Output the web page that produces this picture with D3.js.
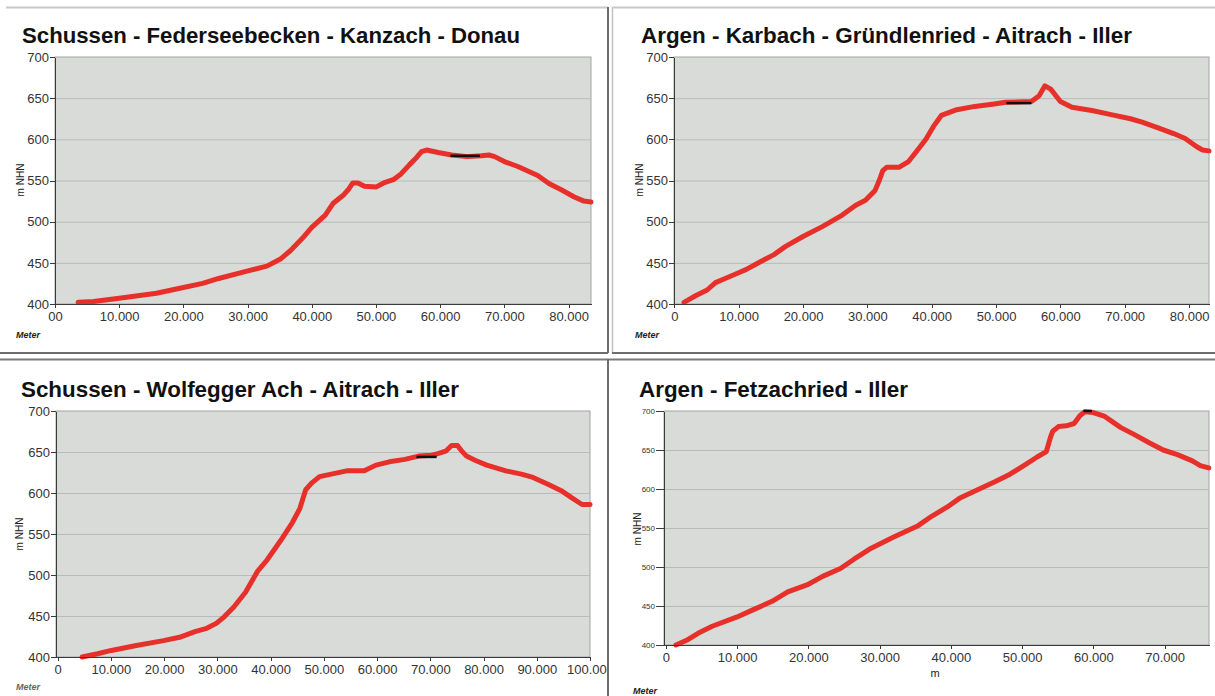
<!DOCTYPE html>
<html>
<head>
<meta charset="utf-8">
<script src="https://cdn.jsdelivr.net/npm/d3@7"></script>
<style>
  body { margin: 0; background: #fff; }
  svg { display: block; font-family: "Liberation Sans", Arial, sans-serif; }
  .grid line { stroke: #b9bbb9; stroke-width: 1; }
  .grid path { display: none; }
  .axis path, .axis line { stroke: #3a3a3a; shape-rendering: crispEdges; }
  .axis text { fill: #333; }
</style>
</head>
<body>
<svg id="chart" width="1215" height="696"></svg>
<script>
// titles of the four profiles
var titles = [
  "Schussen - Federseebecken - Kanzach - Donau",
  "Argen - Karbach - Gründlenried - Aitrach - Iller",
  "Schussen - Wolfegger Ach - Aitrach - Iller",
  "Argen - Fetzachried - Iller"
];

var yTicks  = [400, 450, 500, 550, 600, 650, 700];
var yLabels = ["400", "450", "500", "550", "600", "650", "700"];

var xTicks1  = [0, 10000, 20000, 30000, 40000, 50000, 60000, 70000, 80000];
var xLabels1 = ["00", "10.000", "20.000", "30.000", "40.000", "50.000", "60.000", "70.000", "80.000"];
var xTicks2  = [0, 10000, 20000, 30000, 40000, 50000, 60000, 70000, 80000];
var xLabels2 = ["0", "10.000", "20.000", "30.000", "40.000", "50.000", "60.000", "70.000", "80.000"];
var xTicks3  = [0, 10000, 20000, 30000, 40000, 50000, 60000, 70000, 80000, 90000, 100000];
var xLabels3 = ["0", "10.000", "20.000", "30.000", "40.000", "50.000", "60.000", "70.000", "80.000", "90.000", "100.000"];
var xTicks4  = [0, 10000, 20000, 30000, 40000, 50000, 60000, 70000];
var xLabels4 = ["0", "10.000", "20.000", "30.000", "40.000", "50.000", "60.000", "70.000"];

// distance (m) and elevation (m NHN)
var dist1 = [3600, 6000, 10000, 15800, 20000, 23000, 25500, 29900, 33000, 35200, 36700, 38800, 40000, 42100, 43300, 44900, 45800, 46400, 47200, 48200, 50000, 51200, 52700, 53900, 55200, 56100, 57100, 57900, 59700, 61800, 64200, 66400, 67600, 68500, 70000, 72100, 75200, 77000, 78800, 80900, 82400, 83500];
var elev1 = [402, 403, 407, 413, 420, 425, 431, 440, 446, 455, 465, 482, 493, 508, 522, 532, 540, 547, 547, 543, 542, 547, 551, 558, 569, 576, 585, 587, 584, 581, 579, 580, 581, 579, 573, 567, 556, 546, 539, 530, 525, 524];

var dist2 = [1500, 3300, 5100, 6400, 7900, 10000, 11200, 13300, 15500, 17300, 20000, 23000, 26100, 28200, 29700, 31200, 31800, 32400, 33000, 34900, 36400, 37600, 39100, 40300, 41500, 43900, 46700, 49700, 51500, 55500, 56700, 57600, 58500, 60000, 61800, 64900, 67900, 70900, 72700, 75200, 77600, 79400, 81200, 82100, 83100];
var elev2 = [402, 410, 417, 426, 431, 438, 442, 451, 460, 470, 482, 494, 508, 520, 526, 538, 549, 562, 566, 566, 573, 585, 600, 616, 629, 636, 640, 643, 645, 646, 653, 665, 661, 646, 639, 635, 630, 625, 621, 614, 607, 601, 591, 587, 586];

var dist3 = [4600, 7500, 10100, 14800, 19900, 22900, 25800, 28000, 29800, 31300, 33100, 35300, 37500, 39300, 41900, 44100, 45500, 46600, 47700, 49200, 51400, 54300, 57600, 59800, 62300, 65200, 67800, 70300, 71400, 72900, 74000, 75100, 75800, 76800, 78400, 80600, 84200, 87100, 89300, 92300, 94800, 96600, 98500, 100000];
var elev3 = [400, 404, 408, 414, 420, 424, 431, 435, 441, 449, 461, 479, 504, 518, 542, 564, 581, 604, 612, 620, 623, 627, 627, 634, 638, 641, 645, 646, 648, 651, 658, 658, 652, 645, 640, 634, 627, 623, 619, 610, 602, 594, 586, 586];

var dist4 = [1400, 2900, 4500, 6500, 10000, 12200, 14900, 17100, 19800, 22000, 24500, 26400, 28600, 31900, 35400, 37300, 39500, 41200, 43300, 46100, 48300, 50400, 52100, 53400, 54000, 54300, 55100, 56200, 57300, 58100, 58800, 60000, 61600, 62700, 63800, 65700, 67900, 69800, 71800, 73900, 75000, 76200];
var elev4 = [400, 406, 415, 424, 436, 445, 456, 468, 477, 488, 498, 510, 523, 538, 553, 565, 577, 588, 597, 609, 619, 631, 641, 648, 667, 674, 680, 681, 684, 694, 699, 698, 693, 686, 679, 670, 659, 650, 644, 636, 630, 627];

// short black level segments (summit reach)
var sillDist1 = [61600, 66200], sillElev1 = [580, 580];
var sillDist2 = [51600, 55500], sillElev2 = [644, 644];
var sillDist3 = [67400, 71200], sillElev3 = [644, 644];
var sillDist4 = [58600, 59800], sillElev4 = [700, 700];

var panels = [
  { title: titles[0], dist: dist1, elev: elev1, sd: sillDist1, se: sillElev1, xt: xTicks1, xl: xLabels1,
    xMin: 0, xMax: 83500, box: [55, 591, 57, 304], clip: [0, 0, 608, 353],
    tx: 22, ty: 43, tw: 498, ylx: 20, yly: 180, mx: 16, my: 338, yFont: 13, yTick: 5, yFill: "#333", mFill: "#222" },
  { title: titles[1], dist: dist2, elev: elev2, sd: sillDist2, se: sillElev2, xt: xTicks2, xl: xLabels2,
    xMin: -50, xMax: 83100, box: [674, 1209, 57, 304], clip: [612, 0, 603, 353],
    tx: 641, ty: 43, tw: 491, ylx: 639, yly: 180, mx: 635, my: 338, yFont: 13, yTick: 5, yFill: "#333", mFill: "#222" },
  { title: titles[2], dist: dist3, elev: elev3, sd: sillDist3, se: sillElev3, xt: xTicks3, xl: xLabels3,
    xMin: -300, xMax: 100000, box: [56, 590, 411, 657], clip: [0, 360, 607, 336],
    tx: 21, ty: 397, tw: 438, ylx: 19, yly: 534, mx: 16, my: 690, yFont: 13, yTick: 5, yFill: "#333", mFill: "#666" },
  { title: titles[3], dist: dist4, elev: elev4, sd: sillDist4, se: sillElev4, xt: xTicks4, xl: xLabels4,
    xMin: -270, xMax: 76230, box: [664, 1209, 411, 645], clip: [609, 360, 606, 336],
    tx: 639, ty: 397, tw: 269, ylx: 637, yly: 529, mx: 633, my: 694, yFont: 8, yTick: 8, yFill: "#555", mFill: "#222",
    xName: "m", xnx: 935, xny: 677 }
];

var svg = d3.select("#chart");
svg.append("rect").attr("width", 1215).attr("height", 696).attr("fill", "#fff");

// panel frames
var frames = [
  { d: "M6,7.5H608", c: "#c8c8c8", w: 2 },
  { d: "M608,7V353", c: "#6d6d6d", w: 2 },
  { d: "M0,353H608", c: "#6d6d6d", w: 2 },
  { d: "M612.5,7V353", c: "#c0c0c0", w: 1.5 },
  { d: "M612,7.5H1215", c: "#c8c8c8", w: 2 },
  { d: "M612,353H1215", c: "#6d6d6d", w: 2 },
  { d: "M0,359.5H1215", c: "#7a7a7a", w: 2 },
  { d: "M608,359V696", c: "#6d6d6d", w: 2 }
];
svg.selectAll("path.frame").data(frames).enter().append("path")
  .attr("class", "frame").attr("d", function(d) { return d.d; })
  .attr("stroke", function(d) { return d.c; }).attr("stroke-width", function(d) { return d.w; })
  .attr("fill", "none");

panels.forEach(function(p, i) {
  var x0 = p.box[0], x1 = p.box[1], y0 = p.box[2], y1 = p.box[3];
  var x = d3.scaleLinear().domain([p.xMin, p.xMax]).range([x0, x1]);
  var y = d3.scaleLinear().domain([400, 700]).range([y1, y0]);

  svg.append("clipPath").attr("id", "clip" + i).append("rect")
    .attr("x", p.clip[0]).attr("y", p.clip[1]).attr("width", p.clip[2]).attr("height", p.clip[3]);
  var g = svg.append("g").attr("clip-path", "url(#clip" + i + ")");

  g.append("text").text(p.title)
    .attr("x", p.tx).attr("y", p.ty)
    .attr("font-size", 22).attr("font-weight", "bold").attr("fill", "#111")
    .attr("textLength", p.tw).attr("lengthAdjust", "spacingAndGlyphs");

  g.append("rect").attr("x", x0).attr("y", y0).attr("width", x1 - x0).attr("height", y1 - y0)
    .attr("fill", "#d9dbd9").attr("stroke", "#a3a3a3").attr("stroke-width", 1);

  var grid = d3.axisLeft(y).tickValues([450, 500, 550, 600, 650]).tickSize(-(x1 - x0)).tickFormat("");
  g.append("g").attr("class", "grid").attr("transform", "translate(" + x0 + ",0)").call(grid);

  var line = d3.line().x(function(d) { return x(d[0]); }).y(function(d) { return y(d[1]); });
  var pts = p.dist.map(function(d, k) { return [d, p.elev[k]]; });
  g.append("path").datum(pts).attr("d", line)
    .attr("fill", "none").attr("stroke", "#e8302a").attr("stroke-width", 5)
    .attr("stroke-linejoin", "round").attr("stroke-linecap", "round");

  var sill = p.sd.map(function(d, k) { return [d, p.se[k]]; });
  g.append("path").datum(sill).attr("d", line)
    .attr("fill", "none").attr("stroke", "#111").attr("stroke-width", 2.5);

  var axisY = d3.axisLeft(y).tickValues(yTicks).tickFormat(function(d, k) { return yLabels[k]; })
    .tickSize(p.yTick).tickPadding(1).tickSizeOuter(0);
  var gy = g.append("g").attr("class", "axis").attr("transform", "translate(" + x0 + ",0)").call(axisY);
  gy.selectAll("text").attr("font-size", p.yFont).attr("fill", p.yFill).attr("font-family", null);

  var axisX = d3.axisBottom(x).tickValues(p.xt).tickFormat(function(d, k) { return p.xl[k]; })
    .tickSize(4).tickPadding(4).tickSizeOuter(0);
  var gx = g.append("g").attr("class", "axis").attr("transform", "translate(0," + y1 + ")").call(axisX);
  gx.selectAll("text").attr("font-size", 13).attr("fill", "#333").attr("font-family", null);

  g.append("text").text("m NHN")
    .attr("transform", "translate(" + p.ylx + "," + p.yly + ") rotate(-90)")
    .attr("text-anchor", "middle").attr("dy", "0.35em")
    .attr("font-size", 10).attr("fill", "#222");

  g.append("text").text("Meter")
    .attr("x", p.mx).attr("y", p.my)
    .attr("font-size", 9).attr("font-weight", "bold").attr("font-style", "italic")
    .attr("fill", p.mFill);

  if (p.xName) {
    g.append("text").text(p.xName)
      .attr("x", p.xnx).attr("y", p.xny).attr("text-anchor", "middle")
      .attr("font-size", 11).attr("fill", "#222");
  }
});
</script>
</body>
</html>
